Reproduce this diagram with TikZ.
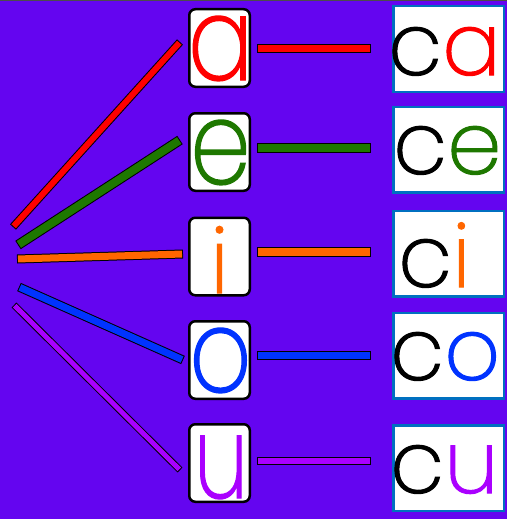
\documentclass[tikz,border=0pt]{standalone}
\usepackage{fontspec}
\newfontfamily\pop{Poppins ExtraLight}[FakeBold=1.2]
\usetikzlibrary{calc}
\definecolor{bg}{HTML}{6405F0}
\definecolor{cred}{HTML}{FF0000}
\definecolor{cgreen}{HTML}{1E7800}
\definecolor{corange}{HTML}{FF6600}
\definecolor{cblue}{HTML}{0033FF}
\definecolor{cpurple}{HTML}{AA00FF}
\definecolor{rborder}{HTML}{0070C0}
\newcommand\lettfont{\pop\fontsize{97}{97}\selectfont}
\newcommand\ifont{\pop\fontsize{90}{90}\selectfont}
\newcommand\wordfont{\pop\fontsize{87}{87}\selectfont}
\newcommand\barline[5]{%
  \draw[black, line width=#3] #4 -- #5;
  \draw[#1, line width=#2, shorten <=1pt, shorten >=1pt] #4 -- #5;}
\tikzset{
  lbox/.style={draw=black, line width=2.5pt, fill=white, rounded corners=6pt,
    minimum width=60.5pt, minimum height=77.5pt, inner sep=0pt},
  rbox/.style={draw=rborder, line width=2.5pt, fill=white,
    minimum width=110.5pt, minimum height=85.5pt, inner sep=0pt},
  lett/.style={inner sep=0pt, anchor=base},
  word/.style={inner sep=0pt, anchor=base west}
}
\begin{document}
\begin{tikzpicture}[x=1pt,y=-1pt]
\useasboundingbox (0,0) rectangle (507,519);
\fill[bg] (0,0) rectangle (507,519);
\draw[black!70, line width=1.2pt] (0,0.6) -- (507,0.6);

% left boxes
\node[lbox] (va) at (219.5,48) {};
\node[lbox] (ve) at (219.5,152) {};
\node[lbox] (vi) at (219.5,256.5) {};
\node[lbox] (vo) at (219.5,360) {};
\node[lbox] (vu) at (219.5,463) {};

\node[lett] (la) at (220.5,80) {\lettfont\scalebox{1}[1.2]{\textcolor{cred}{a}}};
\node[lett] (le) at (220.5,184) {\lettfont\scalebox{1}[1.2]{\textcolor{cgreen}{e}}};
\node[lett] (li) at (219.5,293) {\ifont\textcolor{corange}{i}};
\node[lett] (lo) at (220.5,392) {\lettfont\scalebox{1}[1.2]{\textcolor{cblue}{o}}};
\node[lett] (lu) at (221,498) {\lettfont\scalebox{0.9}[1.18]{\textcolor{cpurple}{u}}};

% right boxes
\node[rbox] (wa) at (448.5,49) {};
\node[rbox] (we) at (448.5,149.5) {};
\node[rbox] (wi) at (448.5,253.5) {};
\node[rbox] (wo) at (448.5,355.5) {};
\node[rbox] (wu) at (448.5,468) {};

\node[word] (ta) at (388,75) {\wordfont c\textcolor{cred}{a}};
\node[word] (te) at (393,174) {\wordfont c\textcolor{cgreen}{e}};
\node[word] (ti) at (398,287) {\wordfont c\textcolor{corange}{i}};
\node[word] (to) at (390,380) {\wordfont c\textcolor{cblue}{o}};
\node[word] (tu) at (390,493) {\wordfont c\textcolor{cpurple}{u}};

% middle bars
\barline{cred}{7pt}{9pt}{($(va.east)+(6,0.5)$)}{($(va.east -| wa.west)+(-21,0.5)$)}
\barline{cgreen}{7.5pt}{9.5pt}{($(ve.east)+(6,-4)$)}{($(ve.east -| we.west)+(-21,-4)$)}
\barline{corange}{7.5pt}{9.5pt}{($(vi.east)+(6,-4.5)$)}{($(vi.east -| wi.west)+(-21,-4.5)$)}
\barline{cblue}{7pt}{9pt}{($(vo.east)+(6,-4.5)$)}{($(vo.east -| wo.west)+(-21,-4.5)$)}
\barline{cpurple}{6pt}{8pt}{($(vu.east)+(6,-2.5)$)}{($(vu.east -| wu.west)+(-21,-2.5)$)}

% left bars
\coordinate (pa) at (13,227);
\coordinate (pe) at (18,245);
\coordinate (pi) at (17,259);
\coordinate (po) at (19,287);
\coordinate (pu) at (14,305);
\barline{cred}{6pt}{8pt}{(pa)}{($(va.west)+(-8,-6)$)}
\barline{cgreen}{8pt}{10pt}{(pe)}{($(ve.west)+(-8,-12)$)}
\barline{corange}{7pt}{9pt}{(pi)}{($(vi.west)+(-5,-2.5)$)}
\barline{cblue}{7pt}{9pt}{(po)}{($(vo.west)+(-5,0)$)}
\barline{cpurple}{5pt}{7pt}{(pu)}{($(vu.west)+(-8,7)$)}
\end{tikzpicture}
\end{document}
